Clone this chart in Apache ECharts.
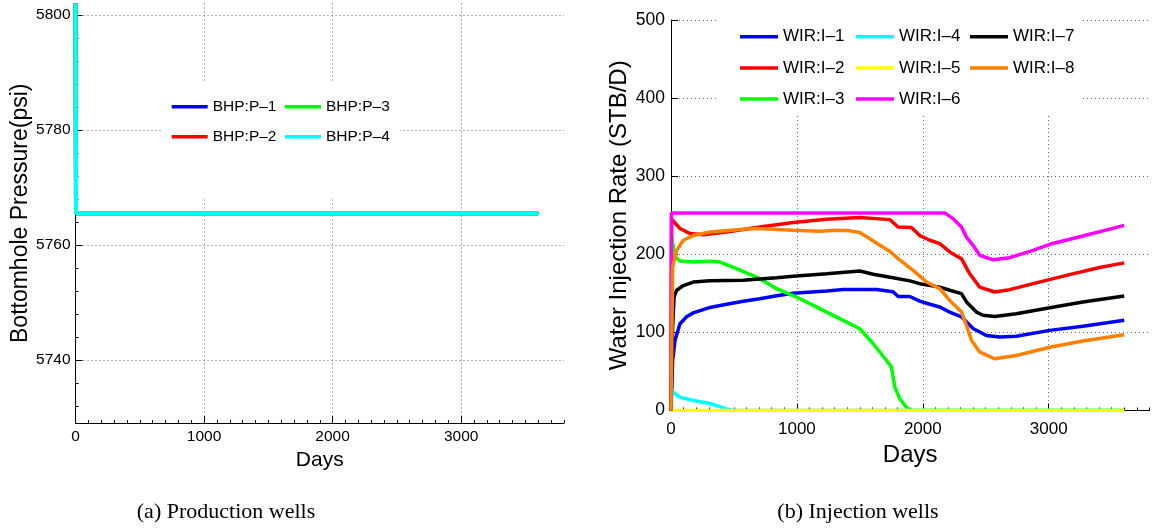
<!DOCTYPE html>
<html>
<head>
<meta charset="utf-8">
<script src="https://cdn.jsdelivr.net/npm/echarts@6/dist/echarts.min.js"></script>
<style>
  html, body { margin: 0; padding: 0; background: #fff; }
  #chart { width: 1154px; height: 529px; }
</style>
</head>
<body>
<div id="chart"></div>
<script>
// ---- Production wells: bottomhole pressure (psi) vs days ----
const bhpNames = ['BHP:P–1', 'BHP:P–2', 'BHP:P–3', 'BHP:P–4'];
const bhpColors = ['#0000ff', '#ff0000', '#00ff00', '#00ffff'];
const bhpP1 = [[0, 5802], [4, 5765.5], [3600, 5765.5]];
const bhpP2 = [[0, 5802], [4, 5765.5], [3600, 5765.5]];
const bhpP3 = [[0, 5802], [4, 5765.5], [3600, 5765.5]];
const bhpP4 = [[0, 5802], [4, 5765.5], [3600, 5765.5]];
const pressureTicks = [5740, 5760, 5780, 5800];

// ---- Injection wells: water injection rate (STB/D) vs days ----
const wirNames = ['WIR:I–1', 'WIR:I–2', 'WIR:I–3', 'WIR:I–4', 'WIR:I–5', 'WIR:I–6', 'WIR:I–7', 'WIR:I–8'];
const wirColors = ['#0000ff', '#ff0000', '#00ff00', '#00ffff', '#ffff00', '#ff00ff', '#000000', '#ff8000'];
const wirI1 = [[0, 0], [13, 64], [32, 90], [71, 111], [124, 120], [177, 125], [310, 132], [442, 136], [574, 140], [706, 143], [839, 147], [971, 150], [1236, 153], [1368, 155], [1632, 155], [1764, 152], [1804, 146], [1896, 146], [1976, 140], [2056, 136], [2135, 132.5], [2214, 126], [2307, 120], [2399, 105], [2505, 96], [2611, 94], [2743, 95], [3008, 102.6], [3272, 108], [3600, 115.5]];
const wirI2 = [[0, 0], [5, 245], [13, 243.6], [71, 233], [151, 226.5], [256, 225], [442, 228.6], [706, 235], [971, 240.6], [1236, 245], [1500, 247], [1738, 244.4], [1804, 235], [1910, 234.3], [1976, 224], [2056, 218], [2135, 213.7], [2214, 203], [2307, 194.4], [2373, 175], [2452, 158], [2571, 151.7], [2690, 154.7], [2876, 162.4], [3140, 173], [3405, 183], [3600, 189]];
const wirI3 = [[0, 0], [5, 225], [13, 215], [32, 197], [71, 191.5], [177, 190], [310, 191], [389, 190], [521, 181.6], [706, 168.8], [839, 156], [997, 145.3], [1103, 136.8], [1236, 126], [1368, 115.4], [1500, 104.7], [1606, 85.5], [1712, 64], [1751, 55.5], [1778, 30], [1817, 15], [1870, 4], [1900, 0], [3600, 0]];
const wirI4 = [[0, 0], [3, 25], [13, 23.5], [71, 17], [177, 12.8], [310, 9], [442, 2], [495, 0], [3600, 0]];
const wirI5 = [[0, 0], [3600, 0]];
const wirI6 = [[0, 0], [3, 253], [2175, 253], [2240, 245.7], [2307, 235], [2347, 222], [2399, 211.5], [2452, 198.7], [2558, 193], [2690, 195.7], [2876, 205], [3008, 212.8], [3272, 223.5], [3600, 237]];
const wirI7 = [[0, 0], [13, 107], [24, 145], [45, 154], [98, 160], [177, 164.5], [310, 166], [574, 166.7], [839, 170], [971, 172], [1236, 175], [1500, 178.6], [1606, 174.4], [1764, 170], [1897, 166], [1976, 162.4], [2135, 158], [2214, 154], [2307, 149.6], [2347, 139], [2426, 126], [2479, 122], [2571, 120.5], [2743, 124], [3008, 131.6], [3272, 139], [3600, 146.6]];
const wirI8 = [[0, 0], [5, 60], [13, 184], [45, 205], [98, 218], [177, 224], [310, 228.6], [574, 232], [680, 233], [971, 230.8], [1183, 229.5], [1315, 230.8], [1421, 230], [1500, 227.8], [1579, 220], [1659, 211.5], [1738, 204], [1804, 194.4], [1870, 186], [1923, 179.5], [2029, 164.5], [2135, 156], [2214, 141], [2307, 126], [2347, 109], [2386, 90], [2452, 75], [2571, 66.2], [2743, 70.5], [3008, 81], [3272, 89], [3600, 97]];

const dayTicks = [0, 1000, 2000, 3000];
const captions = ['(a) Production wells', '(b) Injection wells'];

// minor tick positions
const dayMinor = [];
for (let d = 100; d <= 3800; d += 100) if (d % 1000 !== 0) dayMinor.push(d);
const pressureMinor = [];
for (let p = 5732; p <= 5800; p += 4) if (p % 20 !== 0) pressureMinor.push(p);

const SANS = '"Liberation Sans", Arial, sans-serif';
const gridLine = { show: true, lineStyle: { color: '#666', width: 1, type: [1, 3] } };
const numFmt = v => String(v);

function mainX(gridIndex, fontSize, margin, nameSize, nameGap) {
  return {
    type: 'value', gridIndex, min: 0, max: 3800, position: 'bottom',
    name: 'Days', nameLocation: 'middle', nameGap,
    nameTextStyle: { fontFamily: SANS, fontSize: nameSize, color: '#000' },
    axisLine: { show: true, onZero: false, lineStyle: { color: '#000', width: 1 } },
    axisTick: { show: true, inside: true, length: 7, customValues: dayTicks, lineStyle: { color: '#000' } },
    axisLabel: { show: true, customValues: dayTicks, formatter: numFmt, margin, fontFamily: SANS, fontSize, color: '#000' },
    splitLine: gridLine
  };
}
function minorX(gridIndex) {
  return {
    type: 'value', gridIndex, min: 0, max: 3800, position: 'bottom',
    axisLine: { show: false },
    axisTick: { show: true, inside: true, length: 3, customValues: dayMinor, lineStyle: { color: '#000' } },
    axisLabel: { show: false }, splitLine: { show: false }
  };
}

const series = [];
[bhpP1, bhpP2, bhpP3, bhpP4].forEach((d, i) => series.push({
  type: 'line', name: bhpNames[i], xAxisIndex: 0, yAxisIndex: 0, data: d,
  symbol: 'none', showSymbol: false, color: bhpColors[i],
  lineStyle: { color: bhpColors[i], width: 4 }
}));
[wirI1, wirI2, wirI3, wirI4, wirI5, wirI6, wirI7, wirI8].forEach((d, i) => series.push({
  type: 'line', name: wirNames[i], xAxisIndex: 2, yAxisIndex: 2, data: d,
  symbol: 'none', showSymbol: false, color: wirColors[i],
  lineStyle: { color: wirColors[i], width: 3.5 }
}));

function legendCol(names, left, top, padding, fontSize, itemWidth, itemGap) {
  return {
    data: names, orient: 'vertical', left, top, padding,
    itemWidth, itemHeight: 3.5, itemGap, icon: 'rect',
    selectedMode: false, backgroundColor: '#fff',
    textStyle: { fontFamily: SANS, fontSize, color: '#000', lineHeight: 20 }
  };
}

const option = {
  animation: false,
  backgroundColor: '#fff',
  grid: [
    { left: 75.5, top: 3.5, right: 590, bottom: 106, outerBoundsMode: 'none' },
    { left: 671, top: 20, right: 4.6, bottom: 118.5, outerBoundsMode: 'none' }
  ],
  xAxis: [
    mainX(0, 15.5, 6, 21, 25), minorX(0),
    mainX(1, 17, 10, 24, 33), minorX(1)
  ],
  yAxis: [
    {
      type: 'value', gridIndex: 0, min: 5729, max: 5802, position: 'left',
      name: 'Bottomhole Pressure(psi)', nameLocation: 'middle', nameGap: 43,
      nameTextStyle: { fontFamily: SANS, fontSize: 23, color: '#000' },
      axisLine: { show: true, onZero: false, lineStyle: { color: '#000', width: 1 } },
      axisTick: { show: true, inside: true, length: 7, customValues: pressureTicks, lineStyle: { color: '#000' } },
      axisLabel: { show: true, customValues: pressureTicks, formatter: numFmt, margin: 5, fontFamily: SANS, fontSize: 15.5, color: '#000' },
      splitLine: gridLine
    },
    {
      type: 'value', gridIndex: 0, min: 5729, max: 5802, position: 'left',
      axisLine: { show: false },
      axisTick: { show: true, inside: true, length: 3, customValues: pressureMinor, lineStyle: { color: '#000' } },
      axisLabel: { show: false }, splitLine: { show: false }
    },
    {
      type: 'value', gridIndex: 1, min: 0, max: 500, interval: 100, position: 'left',
      name: 'Water Injection Rate (STB/D)', nameLocation: 'middle', nameGap: 40,
      nameTextStyle: { fontFamily: SANS, fontSize: 24, color: '#000' },
      axisLine: { show: true, onZero: false, lineStyle: { color: '#000', width: 1 } },
      axisTick: { show: true, inside: true, length: 7, lineStyle: { color: '#000' } },
      axisLabel: { show: true, formatter: numFmt, margin: 6, fontFamily: SANS, fontSize: 17.5, color: '#000' },
      splitLine: gridLine
    }
  ],
  legend: [
    legendCol(bhpNames.slice(0, 2), 163, 83, [13.7, 10, 50, 8.7], 15.5, 36, 10),
    legendCol(bhpNames.slice(2, 4), 280, 83, [13.7, 10, 50, 5], 15.5, 36, 10),
    legendCol(wirNames.slice(0, 3), 718, 12, [14.7, 11, 6.3, 22], 17, 38, 11.2),
    legendCol(wirNames.slice(3, 6), 850, 12, [14.7, 11, 6.3, 6], 17, 38, 11.2),
    legendCol(wirNames.slice(6, 8), 964, 12, [14.7, 8, 37.5, 6], 17, 38, 11.2)
  ],
  graphic: [
    { type: 'text', x: 226, y: 512, style: { text: captions[0], font: '22px "Liberation Serif", serif', fill: '#000', align: 'center', verticalAlign: 'middle' } },
    { type: 'text', x: 858, y: 512, style: { text: captions[1], font: '22px "Liberation Serif", serif', fill: '#000', align: 'center', verticalAlign: 'middle' } }
  ],
  series
};

const chart = echarts.init(document.getElementById('chart'), null, { renderer: 'canvas' });
chart.setOption(option);
</script>
</body>
</html>
